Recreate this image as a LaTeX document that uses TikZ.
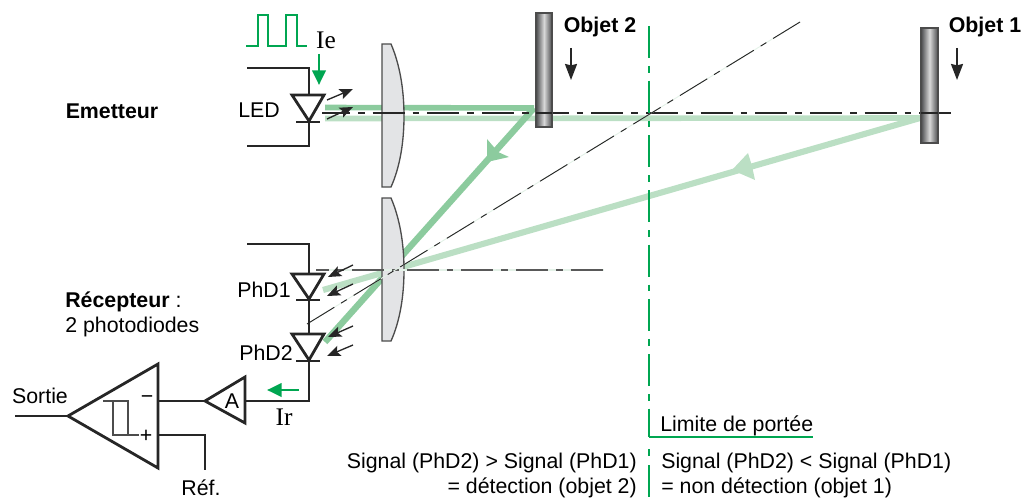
\documentclass[tikz,border=0pt]{standalone}
\usepackage{fontspec}
\setmainfont{Liberation Sans}
\newfontfamily\serifie{Liberation Serif}
\usetikzlibrary{arrows.meta}
\definecolor{rayA}{HTML}{8CCB9E}
\definecolor{rayB}{HTML}{BBDFC4}
\definecolor{rayC}{HTML}{E4F2E8}
\definecolor{limitgreen}{HTML}{00A651}
\definecolor{lensgrey}{HTML}{E3E4E6}
\definecolor{bargrey}{HTML}{4A4B4D}
\tikzset{
	wire/.style={line width=2.1pt,draw=black!85},
	smallarrow/.style={line width=1pt,black!85,-{Stealth[length=10pt,width=8pt,inset=2pt]}},
	objarrow/.style={line width=1.4pt,black!85,-{Stealth[length=12pt,width=9pt,inset=1pt]}},
	greenarrow/.style={line width=2.1pt,limitgreen,-{Stealth[length=11pt,width=10pt,inset=0pt]}},
	axisline/.style={line width=.8pt,black!85,dash pattern=on 24pt off 6pt on 5pt off 6pt},
	limitline/.style={line width=2.2pt,limitgreen,dash pattern=on 24pt off 6pt on 5pt off 6pt},
	lens/.style={draw=black!70,fill=lensgrey,line width=1pt},
	objet/.style={draw=black!70,line width=.9pt,left color=bargrey,right color=bargrey,middle color=white!85!black},
	txt/.style={font=\fontsize{16pt}{17pt}\selectfont,inner sep=0pt},
	txtb/.style={font=\fontsize{16pt}{17pt}\selectfont\bfseries,inner sep=0pt},
	txts/.style={inner sep=0pt,font=\fontsize{19pt}{20pt}\selectfont\serifie}
}
\begin{document}
\begin{tikzpicture}[x=.75pt,y=-.75pt]
	\useasboundingbox (0,0) rectangle (1034,499);

	% Rays
	\coordinate (hitA) at (534,108);
	\coordinate (hitB) at (920,118);
	\draw[rayA,line width=4.2pt] (325,107.5) -- (hitA);
	\draw[rayB,line width=4.2pt] (325,118.5) -- (hitB);
	\draw[rayA,line width=4.8pt] (hitA) -- (325,342);
	\draw[rayB,line width=4.6pt] (hitB) -- (323,290);
	\fill[rayA] (487,162) -- (487,139) -- (498,152) -- (509,157) -- cycle;
	\fill[rayB] (732,170) -- (748,153) -- (752,166) -- (755,180) -- cycle;

	% Lenses
	\draw[lens] (382,44) -- (391,44) .. controls (400,65) and (404,90) .. (404,116)
		.. controls (404,142) and (400,167) .. (391,187) -- (382,187) -- cycle;
	\draw[lens] (382,198) -- (391,198) .. controls (400,219) and (404,244) .. (404,270)
		.. controls (404,296) and (400,321) .. (391,341) -- (382,341) -- cycle;

	% Optical axes
	\draw[axisline,dash phase=3pt] (322,113) -- (955,113);
	\draw[rayC,line width=.9pt] (316,270) -- (604,270);
	\draw[axisline,draw=black!65,line width=1pt,dash phase=14pt] (316,270) -- (604,270);
	\draw[rayC,line width=.7pt] (307,324) -- (800,22);
	\draw[axisline,line width=.7pt] (307,324) -- (800,22);

	% Objects
	\draw[objet] (536,13) rectangle (552,127);
	\draw[objet] (921,28) rectangle (938,143);
	\draw[axisline,dash pattern=] (536,113) -- (552,113);
	\draw[axisline,dash pattern=] (921,113) -- (938,113);
	\coordinate (objBa) at (571,48);
	\coordinate (objBb) at (571,80);
	\coordinate (objAa) at (957,48);
	\coordinate (objAb) at (957,80);
	\draw[objarrow] (objBa) -- (objBb);
	\draw[objarrow] (objAa) -- (objAb);
	\node[txtb] (objetB) at (600,27) {Objet 2};
	\node[txtb] (objetA) at (985,27) {Objet 1};

	% Emitter
	\draw[limitgreen,line width=.8pt] (246,46) -- (258,46) -- (258,15) -- (268,15) -- (268,46)
		-- (286,46) -- (286,15) -- (297,15) -- (297,46) -- (307,46);
	\node[txts] (ie) at (326,40) {Ie};
	\draw[greenarrow] (319,54) -- (319,85);
	\draw[wire] (247,68) -- (309,68) -- (309,95);
	\draw[wire] (309,122) -- (309,146) -- (247,146);
	\draw[wire] (292,95) -- (324,95) -- (309,121) -- cycle;
	\draw[wire] (296,122) -- (320,122);
	\draw[smallarrow] (327,100) -- (353,89);
	\draw[smallarrow] (327,119) -- (353,107);
	\node[txt] (led) at (259,110) {LED};
	\node[txtb] (emetteur) at (112,111) {Emetteur};

	% Receiver
	\draw[wire] (247,244) -- (309,244) -- (309,274);
	\draw[wire] (309,300) -- (309,334);
	\draw[wire] (292,274) -- (324,274) -- (309,299) -- cycle;
	\draw[wire] (296,300) -- (320,300);
	\draw[wire] (292,334) -- (324,334) -- (309,360) -- cycle;
	\draw[wire] (296,361) -- (320,361);
	\draw[smallarrow] (353,265) -- (328,277);
	\draw[smallarrow] (353,284) -- (327,296);
	\draw[smallarrow] (353,326) -- (328,337);
	\draw[smallarrow] (353,345) -- (327,356);
	\node[txt] (phdA) at (264,290) {PhD1};
	\node[txt] (phdB) at (266,353) {PhD2};
	\node[txt,anchor=west] (recepteur) at (65,302) {\textbf{Récepteur} :};
	\node[txt,anchor=west] (photo) at (65,327) {2 photodiodes};

	% Amplifier and comparator
	\draw[wire] (309,361) -- (309,401) -- (245,401);
	\draw[wire] (245,377) -- (245,423) -- (205,401) -- cycle;
	\node[txt] (ampli) at (232,401) {A};
	\draw[wire] (205,401) -- (158,401);
	\draw[wire] (158,364) -- (158,468) -- (68,416) -- cycle;
	\draw[wire] (68,416) -- (15,416);
	\draw[wire] (158,435) -- (205,435) -- (205,470);
	\draw[black!70,line width=.9pt] (103,401) -- (128,401) -- (128,435) -- (113,435) -- (113,401);
	\draw[black!70,line width=.9pt] (128,435) -- (139,435);
	\node[txt] (moins) at (147,400) {\textminus};
	\node[txt] (plus) at (146,436) {+};
	\draw[greenarrow] (299,390) -- (267,390);
	\node[txts] (ir) at (284,417) {Ir};
	\node[txt] (sortie) at (40,396) {Sortie};
	\node[txt] (ref) at (201,488) {Réf.};

	% Range limit
	\draw[limitline] (649,26) -- (649,437);
	\draw[limitgreen,line width=2.2pt] (649,437) -- (813,437);
	\draw[limitline,dash pattern=on 5pt off 7pt on 24pt] (649,449) -- (649,497);
	\node[txt,anchor=west] (limite) at (660,426) {Limite de portée};
	\node[txt,anchor=east] (sigA) at (637,463) {Signal (PhD2) > Signal (PhD1)};
	\node[txt,anchor=east] (sigAb) at (637,488) {= détection (objet 2)};
	\node[txt,anchor=west] (sigB) at (661,463) {Signal (PhD2) < Signal (PhD1)};
	\node[txt,anchor=west] (sigBb) at (661,488) {= non détection (objet 1)};

\end{tikzpicture}
\end{document}
